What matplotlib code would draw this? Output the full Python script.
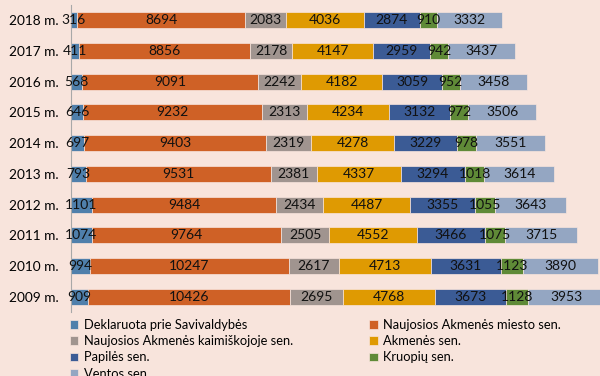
import matplotlib.pyplot as plt
import numpy as np

plt.rcParams['font.family'] = ['Lato', 'DejaVu Sans']

years = ['2009 m.', '2010 m.', '2011 m.', '2012 m.', '2013 m.',
         '2014 m.', '2015 m.', '2016 m.', '2017 m.', '2018 m.']

deklaruota = [909, 994, 1074, 1101, 793, 697, 646, 568, 411, 316]
miesto = [10426, 10247, 9764, 9484, 9531, 9403, 9232, 9091, 8856, 8694]
kaimiskoji = [2695, 2617, 2505, 2434, 2381, 2319, 2313, 2242, 2178, 2083]
akmenes = [4768, 4713, 4552, 4487, 4337, 4278, 4234, 4182, 4147, 4036]
papiles = [3673, 3631, 3466, 3355, 3294, 3229, 3132, 3059, 2959, 2874]
kruopiu = [1128, 1123, 1075, 1055, 1018, 978, 972, 952, 942, 910]
ventos = [3953, 3890, 3715, 3643, 3614, 3551, 3506, 3458, 3437, 3332]

series = [
    ('Deklaruota prie Savivaldybės', deklaruota, '#4f7fab'),
    ('Naujosios Akmenės miesto sen.', miesto, '#cf6126'),
    ('Naujosios Akmenės kaimiškojoje sen.', kaimiskoji, '#a0948f'),
    ('Akmenės sen.', akmenes, '#df9a02'),
    ('Papilės sen.', papiles, '#3b5b95'),
    ('Kruopių sen.', kruopiu, '#5f8a37'),
    ('Ventos sen.', ventos, '#94a6c2'),
]

bg = '#f8e4dc'
fig = plt.figure(figsize=(6, 3.76), dpi=100, facecolor=bg)
ax = fig.add_axes([0.118, 0.170, 0.882, 0.817], facecolor=bg)

y = np.arange(len(years))
left = np.zeros(len(years))
handles = []
for name, vals, color in series:
    vals = np.array(vals)
    bars = ax.barh(y, vals, left=left, height=0.52, color=color,
                   edgecolor=bg, linewidth=0.5, label=name)
    handles.append(bars)
    for yi, l, v in zip(y, left, vals):
        ax.text(l + v / 2, yi, str(v), ha='center', va='center',
                fontsize=10, color='#111111')
    left += vals

ax.set_xlim(0, 27320)
ax.set_ylim(-0.5, 9.5)
ax.set_yticks(y)
ax.set_yticklabels(years, fontsize=9.8)
ax.tick_params(axis='y', length=0, pad=9)
ax.set_xticks([])
for s in ['top', 'right', 'bottom']:
    ax.spines[s].set_visible(False)
ax.spines['left'].set_color('#a8a8a8')

# legend laid out row by row in two columns
order = [0, 2, 4, 6, 1, 3, 5]
fig.legend([handles[i] for i in order], [series[i][0] for i in order],
           ncol=2, loc='upper left', bbox_to_anchor=(0.116, 0.152),
           frameon=False, fontsize=9.3, handlelength=0.65, handleheight=0.65,
           handletextpad=0.45, columnspacing=5.9, labelspacing=0.33,
           borderaxespad=0, borderpad=0)

fig.savefig('out.png', dpi=100, facecolor=bg)
